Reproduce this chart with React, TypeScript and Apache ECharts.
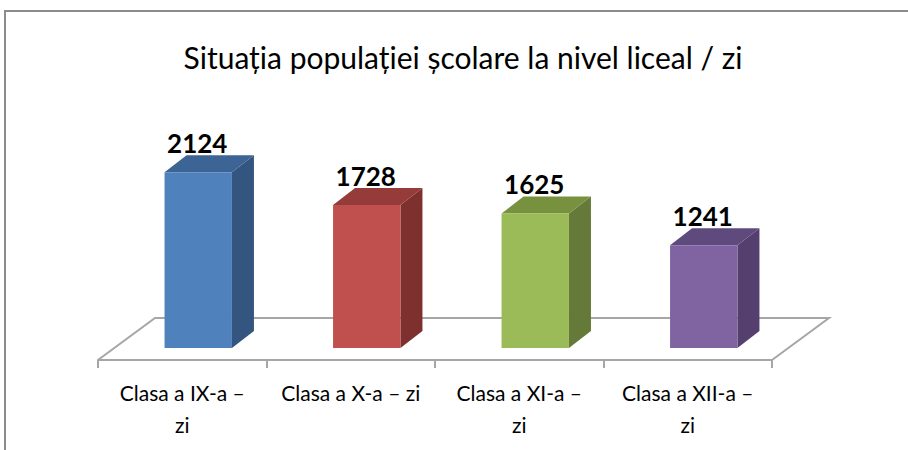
import React, { useEffect, useRef } from "react";
import * as echarts from "echarts";

const TITLE = "Situația populației școlare la nivel liceal / zi";
const categories = ["Clasa a IX-a –\nzi", "Clasa a X-a – zi", "Clasa a XI-a –\nzi", "Clasa a XII-a –\nzi"];
const values = [2124, 1728, 1625, 1241];

const frontColors = ["#4F81BD", "#C0504D", "#9BBB59", "#8064A2"];
const topColors = ["#3C6596", "#953B39", "#77913F", "#5F4A7D"];
const sideColors = ["#34557F", "#7E302E", "#657A38", "#543F6E"];

const FONT = "Lato, 'Open Sans', sans-serif";
const FLOOR_DX = 57;
const FLOOR_DY = -42;
const BAR_DX = 16;
const BAR_DY = -12;
const DEPTH_DX = 22;
const DEPTH_DY = -17;

export default function App() {
  const ref = useRef<HTMLDivElement>(null);
  useEffect(() => {
    if (!ref.current) return;
    const chart = echarts.init(ref.current, null, { renderer: "svg" });
    chart.setOption({
      animation: false,
      backgroundColor: "#ffffff",
      title: {
        text: TITLE,
        left: 458,
        top: 37,
        textAlign: "center",
        textStyle: { fontFamily: FONT, fontSize: 30, fontWeight: "normal", color: "#000" },
      },
      graphic: [
        {
          type: "polyline",
          shape: { points: [[5, 450], [5, 11], [908, 11]] },
          style: { stroke: "#8c8c8c", lineWidth: 2, fill: "none" },
          z: 0,
        },
      ],
      grid: { left: 98, right: 908 - 772, top: 153, bottom: 90 },
      xAxis: {
        type: "category",
        data: categories,
        boundaryGap: true,
        axisLine: { show: true, lineStyle: { color: "#a6a6a6", width: 2 } },
        axisTick: { show: true, length: 8, lineStyle: { color: "#a6a6a6", width: 2 } },
        axisLabel: {
          interval: 0,
          margin: 16,
          fontFamily: FONT,
          fontSize: 21,
          color: "#000",
          lineHeight: 32,
          verticalAlign: "top",
        },
      },
      yAxis: {
        type: "value",
        min: 0,
        max: 2500,
        show: false,
        splitLine: { show: false },
      },
      series: [
        {
          type: "custom",
          z: 1,
          silent: true,
          data: [0],
          renderItem: (params: any, api: any) => {
            const cs = params.coordSys;
            const xb = cs.x;
            const yb = cs.y + cs.height;
            const xe = cs.x + cs.width;
            return {
              type: "polyline",
              shape: {
                points: [
                  [xb, yb],
                  [xb + FLOOR_DX, yb + FLOOR_DY],
                  [xe + FLOOR_DX, yb + FLOOR_DY],
                  [xe, yb],
                ],
              },
              style: { stroke: "#a6a6a6", lineWidth: 2, fill: "none" },
            };
          },
        },
        {
          type: "custom",
          z: 3,
          data: values.map((v, i) => [i, v]),
          encode: { x: 0, y: 1 },
          renderItem: (params: any, api: any) => {
            const i = api.value(0);
            const v = api.value(1);
            const base = api.coord([i, 0]);
            const top = api.coord([i, v]);
            const h = base[1] - top[1];
            const bw = api.size([1, 0])[0] * 0.4;
            const cx = base[0] + BAR_DX;
            const x0 = cx - bw / 2;
            const x1 = cx + bw / 2;
            const yb = base[1] + BAR_DY;
            const yt = yb - h;
            return {
              type: "group",
              children: [
                {
                  type: "polygon",
                  shape: {
                    points: [
                      [x1, yt],
                      [x1, yb],
                      [x1 + DEPTH_DX, yb + DEPTH_DY],
                      [x1 + DEPTH_DX, yt + DEPTH_DY],
                    ],
                  },
                  style: { fill: sideColors[i] },
                },
                {
                  type: "polygon",
                  shape: {
                    points: [
                      [x0, yt],
                      [x1, yt],
                      [x1 + DEPTH_DX, yt + DEPTH_DY],
                      [x0 + DEPTH_DX, yt + DEPTH_DY],
                    ],
                  },
                  style: { fill: topColors[i] },
                },
                {
                  type: "rect",
                  shape: { x: x0, y: yt, width: bw, height: h },
                  style: { fill: frontColors[i] },
                },
                {
                  type: "text",
                  x: cx - 1,
                  y: yt - 29,
                  style: {
                    text: String(v),
                    fontFamily: FONT,
                    fontSize: 26,
                    fontWeight: "bold",
                    fill: "#000",
                    align: "center",
                    verticalAlign: "middle",
                  },
                },
              ],
            };
          },
        },
      ],
    });
    return () => chart.dispose();
  }, []);
  return <div ref={ref} style={{ position: "fixed", left: 0, top: 0, width: 908, height: 450 }} />;
}
